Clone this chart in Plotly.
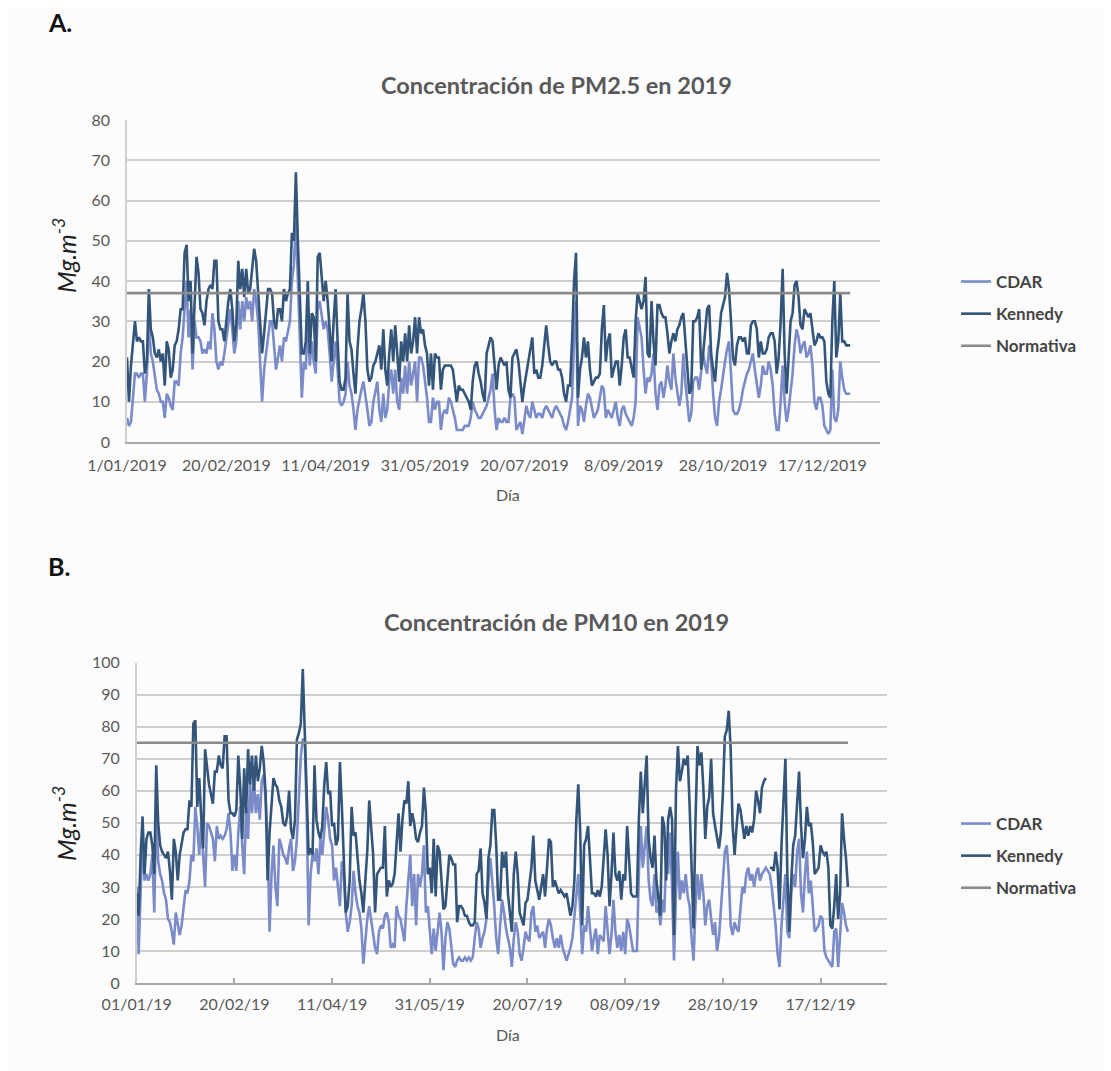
import plotly.graph_objects as go

W, H = 1111, 1071
OFF = 8                      # page body margin of the browser
FW, FH = W - OFF, H - OFF    # figure size so that it fills the window


def px(x):
    return (x - OFF) / FW


def py(y):
    return 1 - (y - OFF) / FH


# ---------------- Panel A : PM2.5 (daily, 1 Jan - 31 Dec 2019) ----------------
pm25_cdar = [
    6, 4, 5, 12, 17, 17, 16, 17, 17, 10,
    17, 30, 22, 20, 17, 13, 12, 10, 10, 6,
    12, 11, 9, 8, 15, 15, 14, 22, 26, 32,
    40, 26, 33, 18, 30, 26, 26, 25, 22, 23,
    22, 25, 23, 32, 28, 20, 18, 20, 19, 22,
    26, 30, 33, 28, 22, 25, 35, 28, 35, 30,
    36, 33, 35, 30, 38, 35, 30, 20, 10, 18,
    22, 27, 30, 30, 24, 18, 21, 24, 20, 26,
    25, 28, 30, 40, 44, 55, 40, 25, 11, 20,
    18, 30, 19, 25, 20, 17, 33, 35, 32, 28,
    30, 28, 22, 15, 20, 25, 18, 10, 9, 10,
    12, 20, 14, 12, 8, 3, 8, 11, 13, 15,
    12, 8, 4, 5, 10, 13, 15, 8, 5, 12,
    6, 8, 15, 18, 12, 18, 10, 8, 16, 12,
    19, 12, 20, 14, 17, 20, 10,
    21, 21, 19, 15, 11, 5, 5, 11, 8, 10,
    10, 3, 7, 8, 7, 11, 10, 8, 6, 3,
    3, 3, 3, 4, 4, 4, 6, 10, 8, 7,
    6, 6, 7, 8, 9, 11, 13, 17, 8, 3,
    6, 5, 5, 6, 5, 5, 11, 12, 11, 3,
    4, 5, 2, 5, 9, 7, 6, 10, 8, 6,
    7, 7, 6, 8, 9, 8, 7, 6, 8, 9,
    8, 7, 6, 4, 3, 5, 8, 11, 25, 35,
    4, 9, 8, 5, 9, 12, 11, 8, 6, 7,
    8, 11, 14, 13, 6, 8, 7, 6, 8, 10,
    6, 4, 8, 9, 7, 6, 5, 4, 6, 10,
    31, 28, 26, 18, 12, 16, 15, 17, 22, 12,
    8, 14, 15, 11, 14, 19, 15, 13, 22, 16,
    13, 9, 12, 22, 15, 9, 5, 7, 15, 16,
    16, 13, 17, 22, 19, 17, 24, 20, 12, 6,
    4, 10, 13, 17, 20, 23, 25, 17, 8, 7,
    7, 8, 10, 13, 15, 17, 18, 20, 22, 18,
    14, 11, 14, 19, 17, 17, 20, 18, 14, 7,
    3, 3, 10, 19, 10, 5, 8, 12, 17, 24,
    28, 26, 22, 24, 25, 21, 22, 24, 19, 10,
    8, 11, 11, 9, 4, 3, 2, 3, 18, 6,
    5, 8, 20, 16, 13, 12, 12, 12,
]

pm25_kennedy = [
    21, 10, 19, 24, 30, 25, 26, 25, 25, 17,
    20, 38, 28, 26, 22, 21, 23, 20, 22, 14,
    25, 23, 16, 18, 24, 25, 28, 33, 33, 47,
    49, 35, 40, 22, 35, 46, 42, 33, 32, 29,
    35, 38, 39, 38, 45, 45, 30, 28, 28, 25,
    30, 35, 38, 33, 25, 29, 45, 38, 43, 36,
    43, 37, 38, 43, 48, 45, 38, 30, 22, 27,
    32, 38, 38, 37, 30, 28, 33, 33, 30, 38,
    35, 37, 38, 52, 50, 67, 50, 35, 22, 22,
    25, 40, 22, 32, 31, 20, 46, 47, 40, 35,
    40, 35, 28, 20, 30, 38, 25, 15, 13, 13,
    16, 37, 25, 23, 17, 12, 23, 30, 33, 37,
    30, 18, 15, 16, 19, 20, 22, 24, 18, 28,
    18, 14, 22, 28, 20, 29, 22, 15, 25, 20,
    27, 20, 29, 22, 25, 31, 22,
    31, 27, 28, 24, 22, 14, 22, 13, 22, 21,
    21, 13, 18, 19, 19, 19, 19, 18, 14, 10,
    14, 13, 13, 12, 11, 10, 8, 15, 19, 20,
    17, 15, 12, 10, 22, 24, 26, 25, 18, 13,
    19, 21, 20, 19, 20, 13, 11, 21, 22, 23,
    20, 14, 10, 14, 17, 19, 22, 26, 17, 18,
    16, 16, 19, 24, 29, 24, 20, 19, 20, 20,
    18, 18, 16, 12, 10, 14, 14, 25, 40, 47,
    11, 18, 21, 26, 21, 25, 18, 14, 15, 16,
    16, 17, 28, 34, 20, 25, 27, 16, 18, 20,
    20, 14, 19, 26, 28, 21, 21, 18, 16, 30,
    37, 35, 33, 35, 41, 22, 21, 35, 25, 19,
    34, 34, 32, 31, 31, 27, 22, 25, 27, 25,
    28, 29, 31, 32, 25, 18, 12, 13, 30, 30,
    31, 33, 18, 22, 28, 33, 34, 22, 18, 15,
    22, 26, 32, 34, 36, 42, 38, 30, 21, 19,
    24, 26, 26, 25, 26, 22, 22, 29, 30, 30,
    28, 21, 25, 22, 22, 23, 26, 27, 27, 25,
    17, 21, 30, 43, 22, 12, 20, 30, 32, 39,
    40, 36, 29, 28, 33, 32, 31, 32, 28, 24,
    25, 27, 26, 26, 25, 15, 12, 11, 30, 40,
    21, 25, 37, 25, 25, 24, 24, 24,
]

# ---------------- Panel B : PM10 ----------------
pm10_cdar = [
    30, 9, 28, 45, 32, 34, 32, 34, 40, 22,
    55, 38, 34, 32, 28, 26, 20, 19, 16, 12,
    22, 19, 15, 18, 24, 29, 28, 32, 40, 38,
    55, 49, 40, 50, 40, 30, 50, 49, 47, 45,
    38, 49, 45, 46, 45, 46, 48, 53, 47, 35,
    40, 35, 47, 55, 43, 34, 55, 45, 63, 53,
    63, 53, 59, 51, 63, 65, 57, 45, 16, 34,
    43, 30, 24, 45, 43, 40, 39, 37, 42, 45,
    35, 38, 45, 57, 71, 76, 76, 53, 18, 34,
    40, 38, 42, 34, 45, 40, 49, 55, 51, 45,
    43, 32, 36, 30, 24, 38, 34, 22, 16, 19,
    24, 35, 28, 24, 22, 17, 6, 13, 20, 24,
    20, 16, 11, 9, 16, 18, 17, 21, 22, 19,
    11, 12, 11, 24, 21, 20, 17, 13, 24, 32,
    40, 24, 34, 18, 34, 30,
    34, 43, 22, 24, 16, 9, 17, 10, 16, 22,
    16, 4, 14, 19, 17, 11, 6, 5, 7, 8,
    7, 7, 8, 7, 8, 7, 8, 14, 19, 17,
    11, 14, 16, 20, 32, 39, 32, 24, 14, 9,
    18, 26, 22, 17, 14, 11, 5, 14, 19, 16,
    9, 7, 11, 16, 14, 13, 22, 24, 16, 18,
    14, 15, 16, 11, 17, 20, 18, 14, 11, 14,
    11, 15, 11, 9, 7, 9, 11, 14, 20, 28,
    34, 22, 9, 18, 16, 24, 18, 10, 14, 17,
    9, 15, 14, 13, 24, 17, 9, 15, 26, 16,
    11, 15, 10, 16, 9, 20, 18, 14, 10, 10,
    10, 34, 49, 36, 43, 49, 32, 26, 24, 34,
    22, 24, 18, 26, 22, 39, 34, 47, 30, 7,
    28, 41, 26, 32, 28, 34, 27, 24, 14, 7,
    24, 34, 26, 34, 28, 18, 24, 26, 20, 15,
    19, 10, 14, 22, 32, 41, 43, 34, 18, 15,
    19, 17, 16, 24, 30, 28, 34, 36, 32, 34,
    30, 34, 36, 32, 34, 35, 36, 35, 34, 30,
    24, 18, 9, 5, 18, 26, 34, 16, 14, 28,
    34, 30, 41, 45, 28, 22, 34, 41, 28, 32,
    24, 16, 17, 18, 21, 20, 10, 8, 7, 6,
    5, 16, 17, 5, 17, 25, 22, 18, 16,
]

pm10_kennedy = [
    28, 21, 40, 52, 34, 45, 47, 47, 43, 34,
    68, 50, 43, 41, 40, 39, 41, 35, 26, 45,
    41, 32, 40, 44, 47, 48, 48, 57, 55, 81,
    82, 55, 64, 52, 42, 73, 68, 62, 59, 56,
    66, 66, 71, 68, 67, 77, 77, 57, 53, 53,
    52, 54, 71, 61, 45, 67, 53, 73, 62, 71,
    60, 71, 63, 67, 74, 69, 59, 32, 47, 57,
    64, 62, 61, 57, 55, 50, 49, 52, 60, 48,
    45, 51, 76, 78, 81, 98, 76, 55, 40, 42,
    40, 68, 51, 47, 45, 49, 62, 69, 59, 60,
    49, 50, 43, 45, 69, 55, 36, 22, 24, 32,
    55, 46, 47, 40, 32, 28, 22, 32, 41, 57,
    49, 40, 22, 34, 35, 36, 36, 49, 27, 32,
    30, 31, 34, 44, 53, 41, 51, 57, 56, 63,
    49, 53, 50, 45, 44, 47,
    49, 61, 53, 34, 36, 28, 45, 27, 43, 41,
    32, 23, 24, 32, 40, 39, 37, 37, 19, 24,
    24, 23, 21, 21, 19, 18, 18, 19, 34, 35,
    42, 28, 25, 20, 39, 43, 54, 54, 43, 26,
    26, 41, 36, 41, 28, 22, 16, 34, 41, 34,
    22, 20, 18, 25, 26, 31, 36, 46, 32, 29,
    26, 30, 34, 27, 36, 45, 44, 30, 32, 30,
    28, 29, 28, 27, 28, 25, 21, 24, 32, 51,
    62, 47, 18, 43, 45, 49, 36, 28, 28, 27,
    29, 27, 30, 40, 48, 40, 24, 34, 47, 34,
    32, 35, 26, 34, 32, 49, 39, 28, 27, 27,
    27, 51, 66, 53, 61, 71, 45, 39, 36, 46,
    32, 26, 21, 52, 49, 32, 51, 55, 51, 15,
    60, 74, 63, 66, 70, 68, 71, 55, 34, 17,
    51, 74, 68, 72, 61, 45, 55, 58, 70, 53,
    49, 45, 42, 47, 59, 77, 79, 85, 73, 49,
    40, 49, 56, 54, 49, 45, 49, 46, 49, 47,
    51, 60, 57, 53, 61, 63, 64, None, 36, 36,
    35, 41, 36, 23, 43, 58, 70, 34, 16, 32,
    43, 46, 58, 66, 49, 39, 45, 55, 49, 50,
    44, 34, 35, 36, 43, 41, 40, 41, 36, 18,
    17, 24, 34, 20, 28, 53, 45, 39, 30,
]

NORMA_PM25 = 37
NORMA_PM10 = 75

tick_days = [0, 50, 100, 150, 200, 250, 300, 350]
ticks_a = ["1/01/2019", "20/02/2019", "11/04/2019", "31/05/2019",
           "20/07/2019", "8/09/2019", "28/10/2019", "17/12/2019"]
ticks_b = ["01/01/19", "20/02/19", "11/04/19", "31/05/19",
           "20/07/19", "08/09/19", "28/10/19", "17/12/19"]

C_CDAR = "#7a8bc8"
C_KEN = "#33557a"
C_NORM = "#8a8a8a"
FONT = "Lato"
TXT = "#595959"

fig = go.Figure()


def add_panel(cdar, ken, norma, xa, ya, legend):
    days_c = list(range(len(cdar)))
    days_k = list(range(len(ken)))
    fig.add_trace(go.Scatter(x=days_c, y=cdar, mode="lines", name="CDAR",
                             line=dict(color=C_CDAR, width=2.6),
                             xaxis=xa, yaxis=ya, legend=legend,
                             legendgroup=legend + "c"))
    fig.add_trace(go.Scatter(x=days_k, y=ken, mode="lines", name="Kennedy",
                             line=dict(color=C_KEN, width=2.6),
                             connectgaps=False,
                             xaxis=xa, yaxis=ya, legend=legend,
                             legendgroup=legend + "k"))
    fig.add_trace(go.Scatter(x=days_c, y=[norma] * len(days_c), mode="lines",
                             name="Normativa",
                             line=dict(color=C_NORM, width=2.6),
                             xaxis=xa, yaxis=ya, legend=legend,
                             legendgroup=legend + "n"))


add_panel(pm25_cdar, pm25_kennedy, NORMA_PM25, "x", "y", "legend")
add_panel(pm10_cdar, pm10_kennedy, NORMA_PM10, "x2", "y2", "legend2")

axis_font = dict(family=FONT, size=16, color=TXT)

xa_common = dict(showgrid=False, zeroline=False, showline=True,
                 linecolor="#a9a9a9", linewidth=1.6, tickfont=axis_font,
                 tickmode="array", tickvals=tick_days, automargin=False)
ya_common = dict(showgrid=True, gridcolor="#cecece", gridwidth=1.6,
                 zeroline=False, showline=True, linecolor="#d0d0d0",
                 linewidth=1.5, tickfont=axis_font, dtick=10, ticks="",
                 ticklabelstandoff=12, automargin=False)

legend_common = dict(font=dict(family=FONT, size=17, color="#444444", weight="bold"),
                     bgcolor="rgba(0,0,0,0)", tracegroupgap=7,
                     xanchor="left", yanchor="middle", x=px(956))

fig.update_layout(
    width=FW, height=FH,
    margin=dict(l=0, r=0, t=0, b=0, autoexpand=False),
    paper_bgcolor="#fcfcfc", plot_bgcolor="#fcfcfc",
    showlegend=True,
    xaxis=dict(domain=[px(127), px(880)], anchor="y", range=[0, 379],
               ticktext=ticks_a, ticks="", ticklabelstandoff=8, **xa_common),
    yaxis=dict(domain=[py(442), py(120)], anchor="x", range=[0, 80],
               **ya_common),
    xaxis2=dict(domain=[px(136.7), px(887)], anchor="y2", range=[0, 384],
                ticktext=ticks_b, ticks="inside", ticklen=5, tickwidth=1.5,
                tickcolor="#a9a9a9", ticklabelstandoff=6, **xa_common),
    yaxis2=dict(domain=[py(983), py(662.7)], anchor="x2", range=[0, 100],
                **ya_common),
    legend=dict(y=py(314), **legend_common),
    legend2=dict(y=py(856), **legend_common),
)

ann = []
for lbl, yy in (("A.", 22), ("B.", 566)):
    ann.append(dict(text="<b>%s</b>" % lbl, x=px(46), y=py(yy),
                    xref="paper", yref="paper", xanchor="left", yanchor="middle",
                    showarrow=False, font=dict(family=FONT, size=25, color="#111111")))
for title, yy in (("Concentración de PM2.5 en 2019", 85),
                  ("Concentración de PM10 en 2019", 622)):
    ann.append(dict(text="<b>%s</b>" % title, x=px(556), y=py(yy),
                    xref="paper", yref="paper", xanchor="center", yanchor="middle",
                    showarrow=False, font=dict(family=FONT, size=23.5, color=TXT)))
for yy in (494, 1034):
    ann.append(dict(text="Día", x=px(508), y=py(yy),
                    xref="paper", yref="paper", xanchor="center", yanchor="middle",
                    showarrow=False, font=dict(family=FONT, size=16, color=TXT)))
for yy in (256, 824):
    ann.append(dict(text="<i>Mg.m<sup>-3</sup></i>", x=px(64), y=py(yy),
                    xref="paper", yref="paper", xanchor="center", yanchor="middle",
                    textangle=-90, showarrow=False,
                    font=dict(family=FONT, size=25, color="#222222")))
fig.update_layout(annotations=ann)

fig.write_html("out.html")
